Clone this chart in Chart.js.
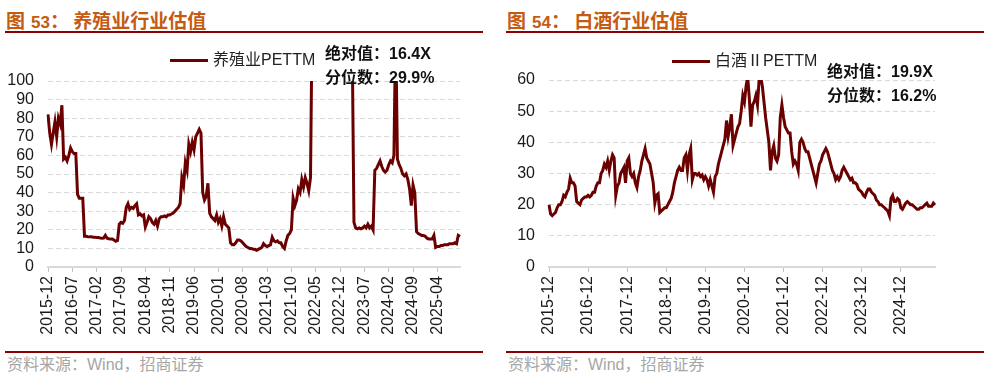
<!DOCTYPE html>
<html lang="zh-CN">
<head>
<meta charset="UTF-8">
<title>养殖业 / 白酒行业估值</title>
<script src="https://cdn.jsdelivr.net/npm/chart.js"></script>
<style>
  body {
    margin: 0;
    background: #fff;
    font-family: "Liberation Sans", "Noto Sans CJK SC", sans-serif;
  }
  .page {
    position: relative;
    width: 996px;
    height: 385px;
    overflow: hidden;
  }
  .title {
    position: absolute;
    top: 8px;
    font-family: "Noto Sans CJK SC", sans-serif;
    font-weight: bold;
    font-size: 19px;
    line-height: 24px;
    color: #C55A11;
    white-space: nowrap;
  }
  .title .num {
    font-family: "Liberation Sans", sans-serif;
    font-size: 17px;
    margin-left: 6px;
  }
  .rule {
    position: absolute;
    width: 478px;
    height: 2px;
    background: #8B0000;
  }
  .source {
    position: absolute;
    top: 354px;
    font-family: "Noto Sans CJK SC", sans-serif;
    font-size: 16px;
    line-height: 18px;
    color: #A6A6A6;
    white-space: nowrap;
  }
  .source .en { font-family: "Liberation Sans", sans-serif; }
  .chart-box {
    position: absolute;
    top: 40px;
    height: 310px;
  }
  .legend {
    position: absolute;
    font-size: 16px;
    line-height: 18px;
    color: #222;
    white-space: nowrap;
    z-index: 2;
  }
  .legend .cn { font-family: "Noto Sans CJK SC", sans-serif; }
  .legend .swatch {
    display: inline-block;
    width: 38px;
    height: 3px;
    background: #6B0000;
    vertical-align: middle;
    margin-right: 5px;
  }
  .note {
    position: absolute;
    font-size: 16px;
    line-height: 22px;
    font-weight: bold;
    color: #111;
    white-space: nowrap;
    z-index: 2;
  }
  .note .cn { font-family: "Noto Sans CJK SC", sans-serif; }
</style>
</head>
<body>
<div class="page">

  <div class="title" style="left:6px">图<span class="num">53</span>：&nbsp;养殖业行业估值</div>
  <div class="rule" style="left:5px; top:31px"></div>
  <div class="chart-box" style="left:0; width:490px"><canvas id="leftChart"></canvas></div>
  <div class="legend" style="left:170px; top:49px"><span class="swatch"></span><span class="cn">养殖业</span>PETTM</div>
  <div class="note" style="left:325px; top:41px"><span class="cn">绝对值：</span>16.4X<br><span class="cn">分位数：</span>29.9%</div>
  <div class="rule" style="left:5px; top:351px"></div>
  <div class="source" style="left:7px">资料来源：<span class="en">Wind</span>，招商证券</div>

  <div class="title" style="left:507px">图<span class="num">54</span>：&nbsp;白酒行业估值</div>
  <div class="rule" style="left:506px; top:31px"></div>
  <div class="chart-box" style="left:500px; width:470px"><canvas id="rightChart"></canvas></div>
  <div class="legend" style="left:672px; top:50px"><span class="swatch"></span><span class="cn">白酒Ⅱ</span>PETTM</div>
  <div class="note" style="left:827px; top:59px"><span class="cn">绝对值：</span>19.9X<br><span class="cn">分位数：</span>16.2%</div>
  <div class="rule" style="left:506px; top:351px"></div>
  <div class="source" style="left:508px">资料来源：<span class="en">Wind</span>，招商证券</div>

</div>

<script>
  // semi-monthly observation dates, 2015-12-01 .. 2025-10-16
  const dates = [];
  for (let i = 0; i < 238; i++) {
    const m = 11 + Math.floor(i / 2);
    const y = 2015 + Math.floor(m / 12);
    const mm = String(m % 12 + 1).padStart(2, '0');
    dates.push(y + '-' + mm + (i % 2 ? '-16' : '-01'));
  }

  const leftTicks = ['2015-12', '2016-07', '2017-02', '2017-09', '2018-04', '2018-11', '2019-06', '2020-01', '2020-08',
    '2021-03', '2021-10', '2022-05', '2022-12', '2023-07', '2024-02', '2024-09', '2025-04'];
  const rightTicks = ['2015-12', '2016-12', '2017-12', '2018-12', '2019-12', '2020-12', '2021-12', '2022-12', '2023-12', '2024-12'];

  // 养殖业 PE TTM (values above 100 run off the top of the chart)
  const leftPE = [
    82, 72, 66, 72, 78, 70, 80, 77, 87, 58, 59, 57, 60, 64, 62, 61, 61, 39, 37, 37, 37, 16.5, 16.5, 16.3,
    16.2, 16.2, 16, 16, 15.8, 15.8, 15.6, 15.5, 15.6, 17, 15.5, 15.2, 15, 15, 14.5, 13.8, 14.2, 23, 24, 23.5, 25, 32, 34, 31,
    32, 31.5, 33, 34, 28, 28.5, 27.5, 28, 21.5, 24, 27, 26, 24, 23, 25, 22, 26, 27, 27, 27.5, 27, 28, 28, 28.5,
    29, 30, 31, 32, 34, 48, 44, 56, 52, 66, 62, 67, 63, 70, 72, 74, 72, 40, 36, 38, 45, 29, 27, 26,
    25, 28, 24, 26, 22, 27, 23, 22, 21, 13, 12, 12, 13, 14.5, 14.5, 14, 13, 12, 11, 10.5, 10, 10, 9.5, 9.5,
    9, 9.5, 10, 10.5, 12.5, 11.5, 11, 11.5, 12, 16, 14, 13.5, 14, 13, 13, 11, 10, 14, 17, 18, 20, 37, 33, 36,
    42, 40, 47, 43, 48, 45, 41, 48, 140, 180, 210, 260, 310, 350, 420, 380, 330, 290, 260, 240, 230, 220, 210, 200,
    190, 180, 170, 160, 150, 140, 130, 120, 24, 21, 20.5, 21, 20.5, 21, 22, 21, 23, 21, 22, 20, 52, 53, 55, 57,
    54, 52, 51, 52, 55, 57, 56, 60, 130, 58, 55, 53, 50, 49, 50, 47, 42, 33, 44, 40, 19, 18, 17.5, 17,
    17, 16.5, 15.5, 15, 15, 15, 17, 10.5, 11, 11, 11.5, 11.5, 12, 12, 12, 12.5, 12.5, 12.5, 13, 12.5, 17, 16.4
  ];

  // 白酒Ⅱ PE TTM
  const rightPE = [
    20, 17, 16.5, 17, 17.5, 19, 20, 20, 21, 23, 22.5, 24, 25, 28.5, 27, 27, 26, 21, 20.5, 20, 21.5, 22, 22.5, 22.5,
    23, 22.5, 23, 24, 24, 26, 27, 27, 30, 31, 33, 32, 34, 31, 34, 36, 35, 23, 26, 27, 30, 31, 32, 27,
    34, 35, 30, 29, 30, 27, 25.5, 29, 31, 34, 36, 38, 35, 34, 33, 30, 27, 20.5, 23, 23.5, 17.5, 18, 18.5, 19,
    19, 20, 21, 22, 24, 27, 29, 31, 32, 31, 31, 35, 36, 31, 36, 38, 28, 30, 30, 29.5, 30, 29, 29.5, 28,
    29, 28, 26, 28, 26, 24, 29, 30, 33, 35, 37, 39, 41, 47, 42, 45, 49, 39, 41, 43, 45, 46, 50, 55,
    53, 58, 61, 54, 45, 52, 53, 55, 52, 60, 61, 58, 53, 48, 44, 40, 31, 37, 39, 35, 34, 36, 48, 52,
    48, 45, 44, 43, 43, 37, 33, 34, 33, 31, 40, 41, 40, 38, 37, 37, 35, 33, 31, 29, 27, 30, 33, 34,
    36, 37, 38, 37, 35, 33, 31, 30, 28, 29, 28, 29, 31, 32, 31, 30, 29, 28, 28.5, 27, 27, 26.5, 25, 24.5,
    24, 23, 22.5, 24, 25, 25, 24, 23.5, 23, 21.5, 21, 20, 20, 19.5, 19, 18.5, 18, 16.5, 22, 23, 21, 21, 22, 21.5,
    19, 18.5, 19.5, 20.5, 21, 20.5, 20, 20, 19.5, 19, 18.5, 18.5, 19, 19, 19.5, 20, 20.5, 19.5, 19.5, 19.5, 20.5, 19.9
  ];

  const lineColor = '#6B0000';
  Chart.defaults.font.family = '"Liberation Sans", Arial, sans-serif';

  function makeChart(id, name, values, tickList, yMax, yWidth, padTop, padRight) {
    new Chart(document.getElementById(id), {
      type: 'line',
      data: {
        labels: dates,
        datasets: [{
          label: name,
          data: values,
          borderColor: lineColor,
          backgroundColor: lineColor,
          borderWidth: 3,
          pointRadius: 0,
          tension: 0,
          fill: false
        }]
      },
      options: {
        responsive: true,
        maintainAspectRatio: false,
        animation: false,
        layout: { padding: { left: 0, right: padRight, top: padTop, bottom: 0 } },
        plugins: { legend: { display: false }, tooltip: { enabled: false } },
        scales: {
          x: {
            ticks: {
              autoSkip: false,
              minRotation: 90,
              maxRotation: 90,
              padding: 4,
              color: '#1a1a1a',
              font: { size: 16 },
              callback: (v) => dates[v].slice(0, 7)
            },
            grid: { drawOnChartArea: false, drawTicks: true, tickLength: 5, tickColor: '#BFBFBF', color: '#BFBFBF' },
            border: { display: true, color: '#D9D9D9', width: 2 },
            afterBuildTicks: (s) => {
              s.ticks = s.ticks.filter(t => dates[t.value].endsWith('-01') && tickList.includes(dates[t.value].slice(0, 7)));
            },
            afterFit: (s) => { s.height = 83; }
          },
          y: {
            min: 0,
            max: yMax,
            ticks: { stepSize: 10, autoSkip: false, padding: 14, color: '#1a1a1a', font: { size: 16 } },
            grid: { color: '#D9D9D9', drawTicks: false },
            border: { display: false, dash: [5, 3] },
            afterFit: (s) => { s.width = yWidth; }
          }
        }
      }
    });
  }

  makeChart('leftChart', '养殖业PETTM', leftPE, leftTicks, 100, 48, 41, 30);
  makeChart('rightChart', '白酒ⅡPETTM', rightPE, rightTicks, 60, 49, 40, 35);
</script>
</body>
</html>
